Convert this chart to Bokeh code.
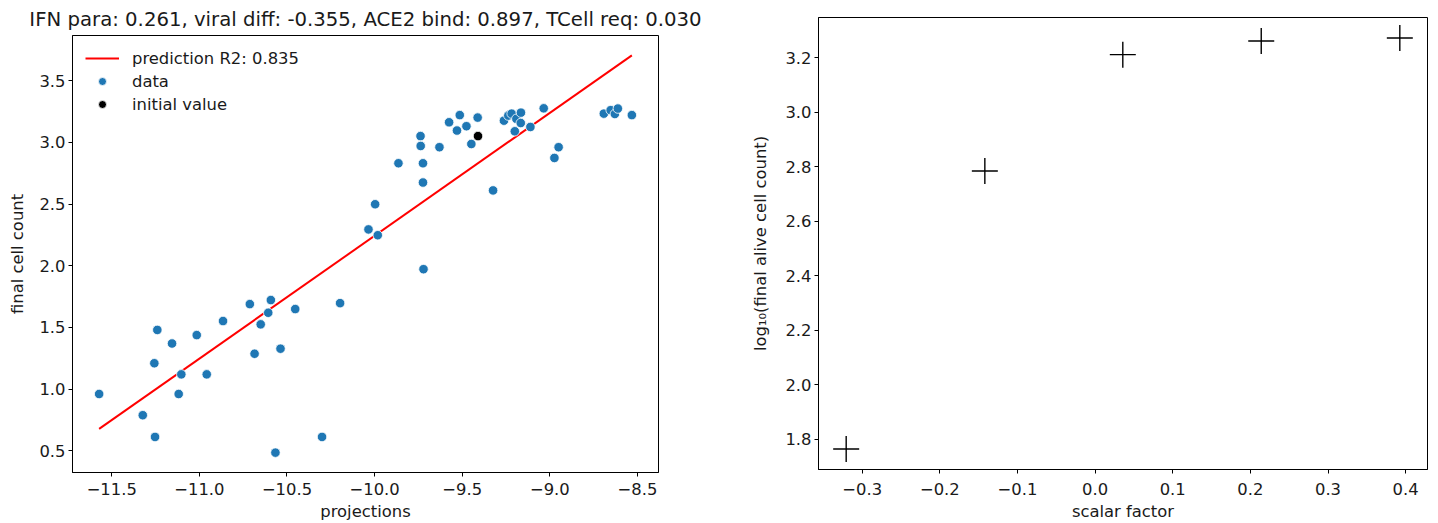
import numpy as np
from bokeh.plotting import figure
from bokeh.models import Range1d, FixedTicker, CustomJSTickFormatter, Legend, LegendItem
from bokeh.layouts import row, column
from bokeh.embed import file_html
from bokeh.resources import INLINE

# ---------------- data (left panel) ----------------
proj_x = [-11.572, -11.24, -11.257, -11.156, -11.323, -11.253, -11.103, -11.118, -11.015, -10.958,
          -10.865, -10.712, -10.685, -10.65, -10.607, -10.592, -10.537, -10.566, -10.453, -10.30,
          -10.197, -10.035, -9.997, -9.982, -9.864, -9.738, -9.737, -9.724, -9.724, -9.721,
          -9.63, -9.575, -9.514, -9.53, -9.476, -9.448, -9.412, -9.324, -9.262, -9.237,
          -9.218, -9.191, -9.165, -9.166, -9.2, -9.111, -9.035, -8.95, -8.974, -8.692,
          -8.653, -8.629, -8.612, -8.532]
cell_y = [0.961, 1.48, 1.21, 1.37, 0.789, 0.613, 1.12, 0.961, 1.438, 1.12,
          1.552, 1.689, 1.287, 1.525, 1.619, 1.722, 1.328, 0.486, 1.649, 0.613,
          1.697, 2.294, 2.498, 2.247, 2.83, 3.05, 2.97, 2.83, 2.674, 1.972,
          2.96, 3.162, 3.22, 3.095, 3.13, 2.986, 3.20, 2.61, 3.175, 3.216,
          3.232, 3.19, 3.24, 3.156, 3.089, 3.124, 3.275, 2.96, 2.873, 3.232,
          3.26, 3.229, 3.273, 3.22]
init_x = [-9.41]
init_y = [3.05]
pred_x = [-11.572, -8.532]
pred_y = [0.678, 3.704]

left_title = "IFN para: 0.261, viral diff: -0.355, ACE2 bind: 0.897, TCell req: 0.030"
left_xlabel = "projections"
left_ylabel = "final cell count"
left_xticks = [-11.5, -11.0, -10.5, -10.0, -9.5, -9.0, -8.5]
left_yticks = [0.5, 1.0, 1.5, 2.0, 2.5, 3.0, 3.5]
legend_labels = ["prediction R2: 0.835", "data", "initial value"]

# ---------------- data (right panel) ----------------
scalar_x = [-0.3206, -0.142, 0.0357, 0.214, 0.3925]
alive_y = [1.764, 2.784, 3.211, 3.261, 3.272]
right_xlabel = "scalar factor"
right_ylabel = "log\u2081\u2080(final alive cell count)"
right_xticks = [-0.3, -0.2, -0.1, 0.0, 0.1, 0.2, 0.3, 0.4]
right_yticks = [1.8, 2.0, 2.2, 2.4, 2.6, 2.8, 3.0, 3.2]

FONT = "DejaVu Sans"
FS = "16.4px"
fmt_js = "return tick.toFixed(1).replace('-', '\u2212');"


def pad_range(vals, frac=0.05):
    lo, hi = min(vals), max(vals)
    d = (hi - lo) * frac
    return Range1d(lo - d, hi + d)


def style(p, xticks, yticks, xlab_stand, xstand, ystand):
    p.grid.visible = False
    p.outline_line_color = "black"
    p.outline_line_width = 1
    p.background_fill_color = "white"
    p.border_fill_color = "white"
    for ax in (p.xaxis[0], p.yaxis[0]):
        ax.axis_line_color = "black"
        ax.axis_line_width = 1
        ax.major_tick_in = 0
        ax.major_tick_out = 4
        ax.minor_tick_line_color = None
        ax.major_tick_line_color = "black"
        ax.major_label_text_font = FONT
        ax.major_label_text_font_size = FS
        ax.major_label_text_color = "#1a1a1a"
        ax.axis_label_text_font = FONT
        ax.axis_label_text_font_size = FS
        ax.axis_label_text_font_style = "normal"
        ax.axis_label_text_color = "#1a1a1a"
        ax.major_label_standoff = 3
        ax.formatter = CustomJSTickFormatter(code=fmt_js)
    p.xaxis[0].ticker = FixedTicker(ticks=xticks)
    p.yaxis[0].ticker = FixedTicker(ticks=yticks)
    p.xaxis[0].major_label_standoff = xlab_stand
    p.xaxis[0].axis_label_standoff = xstand
    p.yaxis[0].axis_label_standoff = ystand


# ---------------- left figure ----------------
p1 = figure(width=740, height=523, output_backend="svg", toolbar_location=None,
            x_range=pad_range(proj_x + pred_x), y_range=pad_range(cell_y + pred_y),
            min_border_left=72, min_border_right=82, min_border_top=34, min_border_bottom=50,
            title=left_title, x_axis_label=left_xlabel, y_axis_label=left_ylabel)
p1.title.text_font = FONT
p1.title.text_font_size = "19.7px"
p1.title.text_font_style = "normal"
p1.title.align = "center"
p1.title.standoff = 10
p1.title.text_color = "#1a1a1a"
style(p1, left_xticks, left_yticks, 6, 4, 9)

r_line = p1.line(pred_x, pred_y, line_color="red", line_width=2)
r_data = p1.scatter(proj_x, cell_y, size=9.5, fill_color="#1f77b4", line_color="white",
                    line_width=0.8)
r_init = p1.scatter(init_x, init_y, size=9.5, fill_color="black", line_color="white",
                    line_width=0.8)

legend = Legend(items=[LegendItem(label=legend_labels[0], renderers=[r_line]),
                       LegendItem(label=legend_labels[1], renderers=[r_data]),
                       LegendItem(label=legend_labels[2], renderers=[r_init])],
                location="top_left")
legend.border_line_alpha = 0
legend.background_fill_alpha = 0
legend.label_text_font = FONT
legend.label_text_font_size = FS
legend.label_text_color = "#1a1a1a"
legend.glyph_width = 34
legend.glyph_height = 20
legend.label_height = 20
legend.spacing = 3
legend.label_standoff = 13
legend.margin = 6
legend.padding = 7
p1.add_layout(legend)

# ---------------- right figure ----------------
p2 = figure(width=698, height=523, output_backend="svg", toolbar_location=None,
            x_range=pad_range(scalar_x), y_range=pad_range(alive_y),
            min_border_left=78, min_border_right=11, min_border_top=17, min_border_bottom=53,
            x_axis_label=right_xlabel, y_axis_label=right_ylabel)
style(p2, right_xticks, right_yticks, 9, 4, 12)
p2.scatter(scalar_x, alive_y, marker="cross", size=26, line_color="black", line_width=1.4)

layout = row(column(p1), column(p2))
open("out.html", "w").write(file_html(layout, INLINE))
